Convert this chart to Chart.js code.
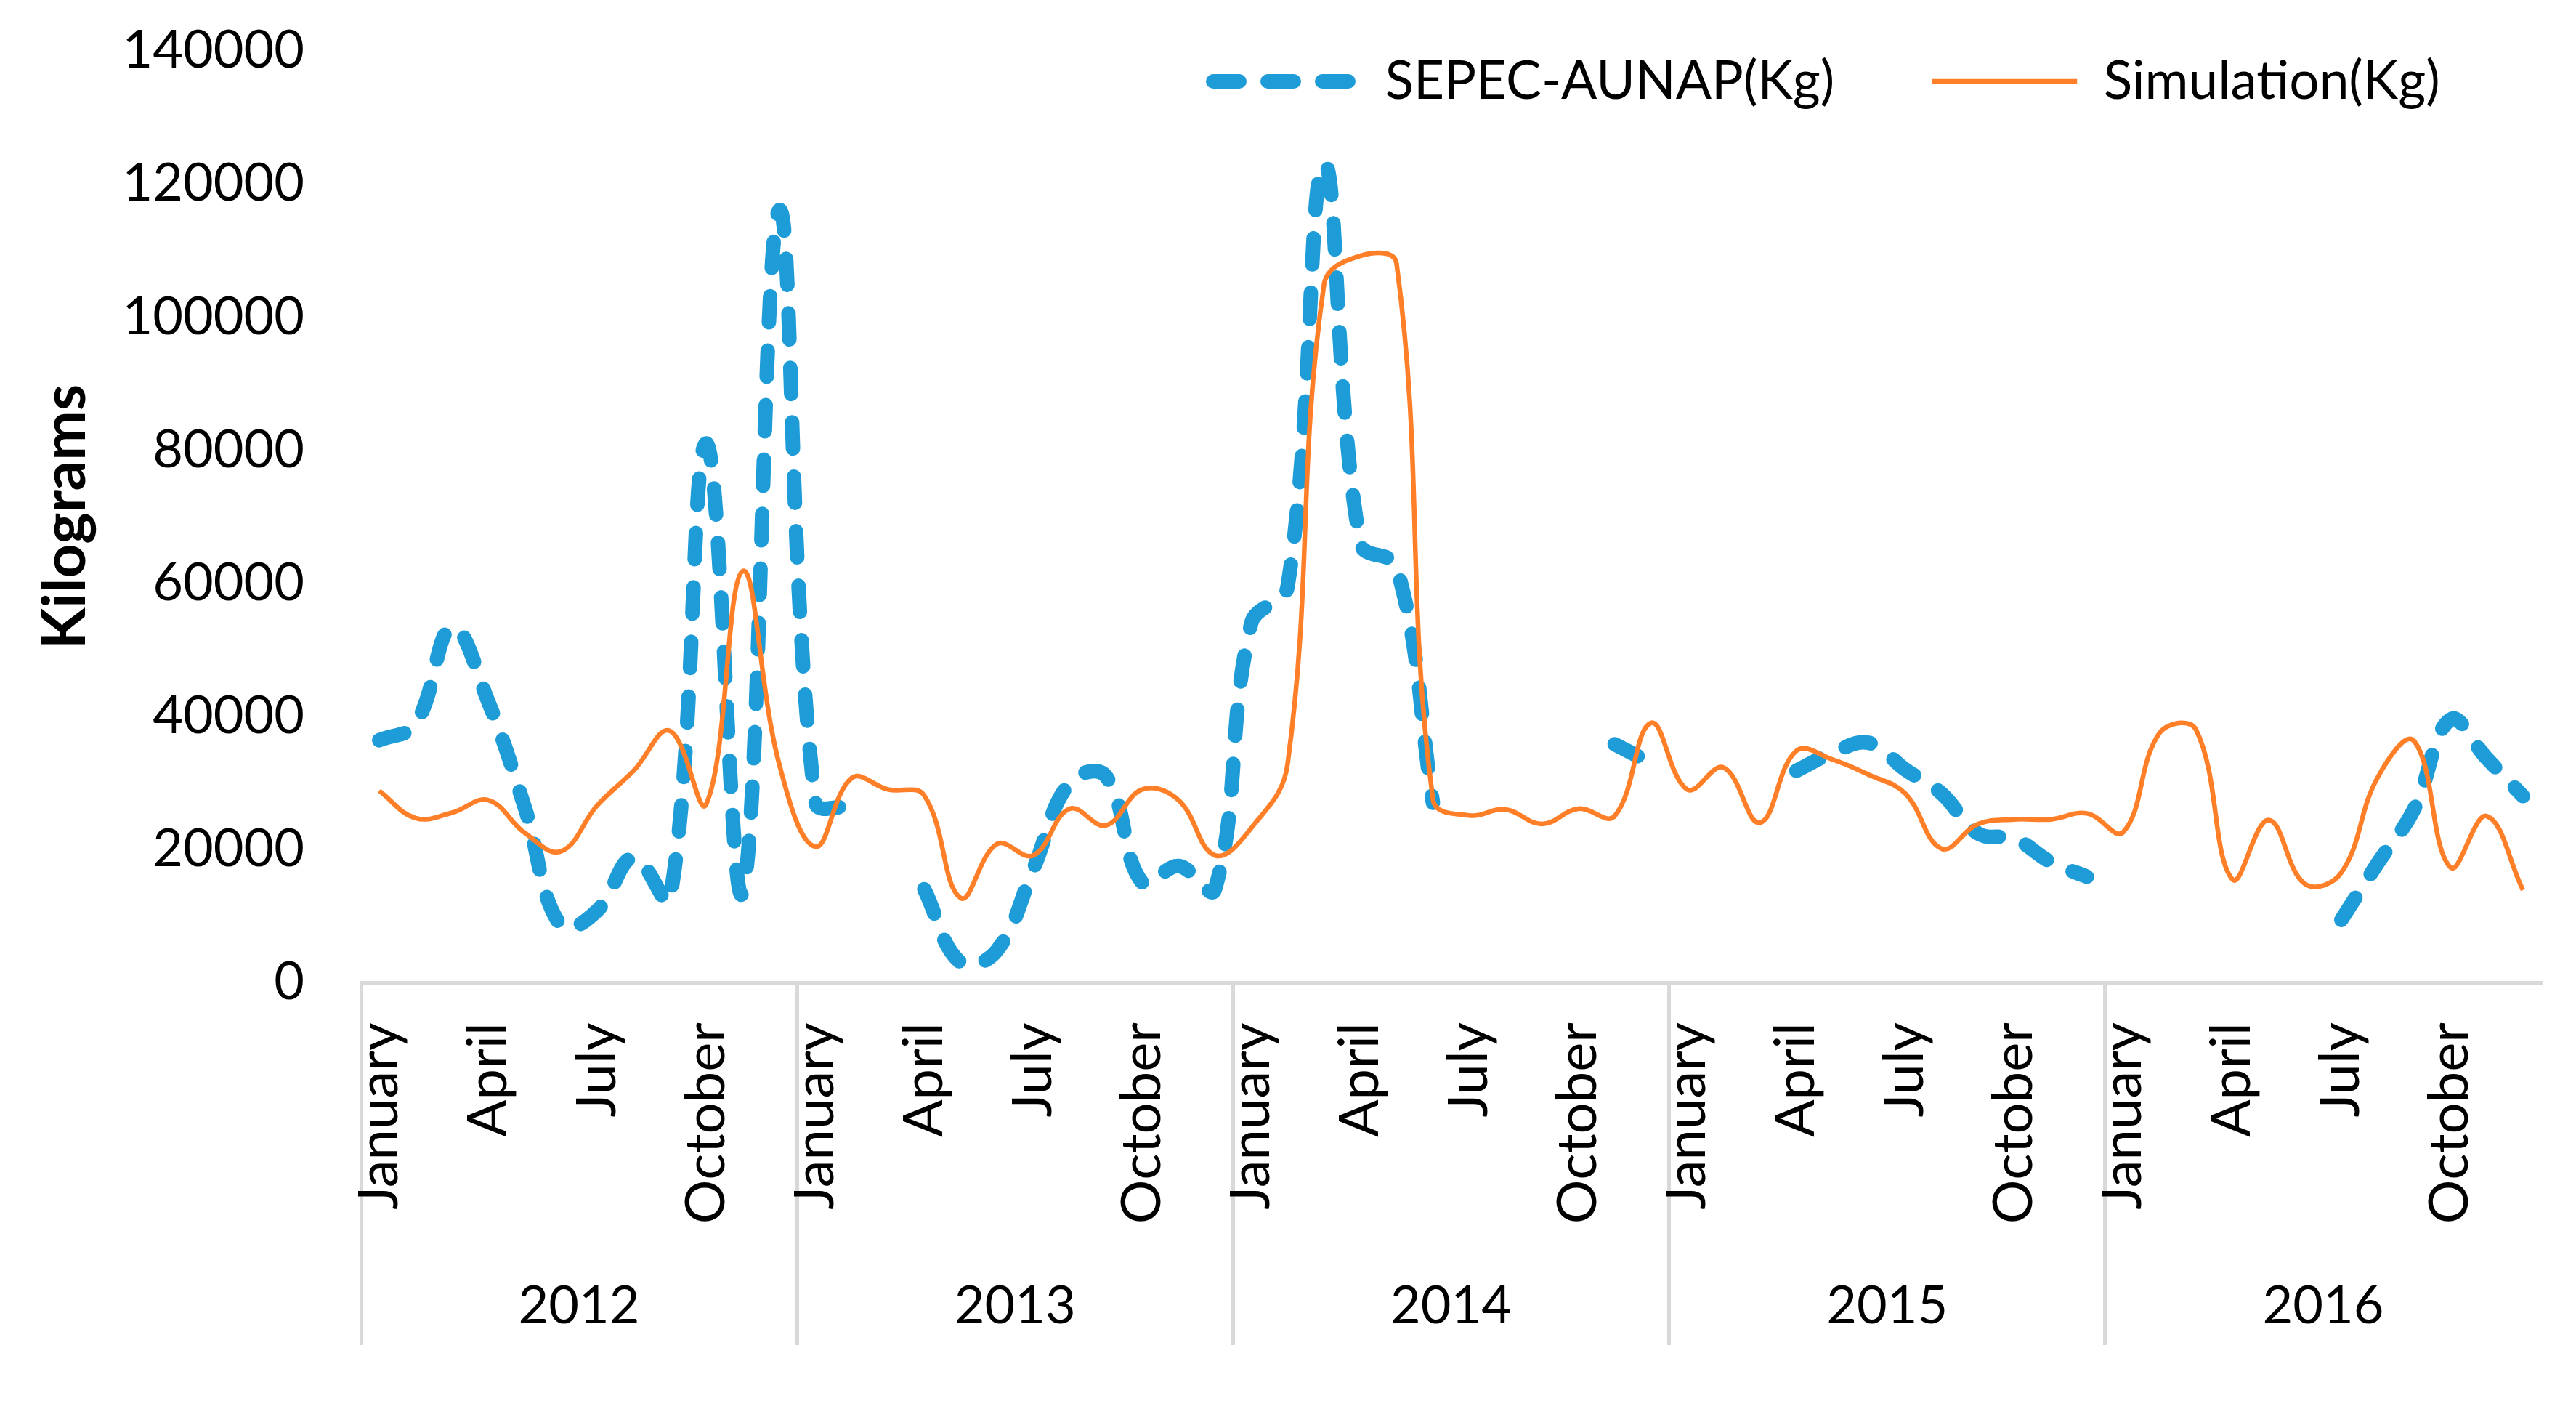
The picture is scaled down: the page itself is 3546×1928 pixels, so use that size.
<!DOCTYPE html>
<html>
<head>
<meta charset="utf-8">
<script src="https://cdn.jsdelivr.net/npm/chart.js@4.4.1/dist/chart.umd.min.js"></script>
<style>
  html, body { margin: 0; padding: 0; background: #fff; }
  canvas { display: block; }
</style>
</head>
<body>
<canvas id="chart" width="3546" height="1928"></canvas>
<script>
// ── Data ─────────────────────────────────────────────────────────────────────

const years = ['2012', '2013', '2014', '2015', '2016'];
const months = ['January', 'February', 'March', 'April', 'May', 'June',
    'July', 'August', 'September', 'October', 'November', 'December'];
const yTicks = [0, 20000, 40000, 60000, 80000, 100000, 120000, 140000];

// SEPEC-AUNAP landings, kg per month (null = no record)
const sepecKg = [
    36400, 38800, 53400, 42200, 26400, 8500, 10800, 18800, 12500, 81000, 13500, 116000,
    27200, 26400, null, 14000, 3000, 4800, 17000, 30000, 31000, 15000, 17500, 14000,
    54000, 59500, 123000, 66000, 62500, 27000, null, null, null, null, 35800, 33000,
    null, null, null, 31800, 34500, 36000, 32000, 28400, 22400, 21600, 18100, 15900,
    null, null, null, null, null, null, 9400, 17900, 26000, 39500, 33700, 28000,
];

// Simulated catch, kg per month
const simulationKg = [
    28800, 24700, 25500, 27400, 22500, 19700, 26600, 31800, 37800, 26800, 61800, 33000,
    20400, 30700, 29000, 28100, 12700, 20800, 19100, 26100, 23600, 29000, 27400, 19100,
    23200, 32800, 104800, 109200, 108000, 27500, 25100, 26000, 23800, 26100, 25000, 39000,
    29000, 32300, 24000, 34800, 33500, 31200, 28400, 20100, 23800, 24500, 24500, 25400,
    22600, 37500, 38000, 15500, 24400, 14800, 16500, 30800, 36300, 17300, 25000, 13900,
];

// ── Styling ──────────────────────────────────────────────────────────────────

const blue = '#1e9cd7';
const orange = '#fe7f28';
const axisGrey = '#d9d9d9';

const chartTop = 70;        // pixel row of the 140000 line
const legendCenterY = 112;
const legendLeft = 1670;

Chart.defaults.font.family = 'Lato, "Open Sans", sans-serif';
Chart.defaults.color = '#000';

const labels = years.flatMap((y) => months.map((m) => `${m} ${y}`));

// Excel draws the legend inside the plot area; move the box after layout
const legendShift = {
    id: 'legendShift',
    afterLayout(chart) {
        const lg = chart.legend;
        if (!lg) return;
        const opts = lg.options.labels;
        const top = legendCenterY - opts.padding - opts.font.size / 2;
        lg.bottom += top - lg.top;
        lg.top = top;
        lg.right = legendLeft + lg.lineWidths[0];
    },
};

const yearLine = (c) => (c.index % 12 === 0 ? 5 : 0);

const chart = new Chart(document.getElementById('chart'), {
    type: 'line',
    data: {
        labels,
        datasets: [
            {
                label: 'SEPEC-AUNAP(Kg)',
                data: sepecKg,
                borderColor: blue,
                backgroundColor: blue,
                borderWidth: 20,
                borderDash: [36, 39],
                borderCapStyle: 'round',
                borderJoinStyle: 'round',
                pointRadius: 0,
                tension: 0.4,
                order: 2,
            },
            {
                label: 'Simulation(Kg)',
                data: simulationKg,
                borderColor: orange,
                backgroundColor: orange,
                borderWidth: 6.5,
                pointRadius: 0,
                tension: 0.4,
                order: 1,
            },
        ],
    },
    options: {
        responsive: false,
        devicePixelRatio: 1,
        animation: false,
        layout: { padding: { top: 0, right: 48, bottom: 0, left: 0 } },
        plugins: {
            tooltip: { enabled: false },
            legend: {
                position: 'top',
                align: 'end',
                labels: {
                    usePointStyle: true,
                    pointStyleWidth: 200,
                    padding: 134,
                    font: { size: 73 },
                    generateLabels: (c) => c.data.datasets.map((ds, i) => ({
                        text: ds.label,
                        datasetIndex: i,
                        fontColor: '#000',
                        fillStyle: ds.borderColor,
                        strokeStyle: ds.borderColor,
                        lineWidth: ds.borderWidth,
                        lineDash: ds.borderDash || [],
                        lineCap: ds.borderCapStyle || 'butt',
                        pointStyle: 'line',
                        hidden: false,
                    })),
                },
            },
        },
        scales: {
            x: {
                type: 'category',
                position: 'bottom',
                offset: true,
                weight: 0,
                border: { display: true, color: axisGrey, width: 5 },
                grid: {
                    offset: true,
                    drawOnChartArea: false,
                    drawTicks: true,
                    tickLength: 499,
                    color: axisGrey,
                    lineWidth: yearLine,
                    tickColor: axisGrey,
                    tickWidth: yearLine,
                },
                ticks: {
                    autoSkip: false,
                    minRotation: 90,
                    maxRotation: 90,
                    padding: -444,
                    font: { size: 76 },
                    color: '#000',
                    callback: (v, i) => (i % 3 === 0 ? months[i % 12] : ''),
                },
                afterFit: (s) => { s.height = 330; s.paddingLeft = 0; s.paddingRight = 0; },
            },
            x2: {
                type: 'category',
                labels: years,
                position: 'bottom',
                offset: true,
                weight: 1,
                border: { display: false },
                grid: { display: false, drawTicks: false },
                ticks: { padding: 73, font: { size: 72 }, color: '#000', maxRotation: 0 },
                afterFit: (s) => { s.height = 246; s.paddingLeft = 0; s.paddingRight = 0; },
            },
            y: {
                position: 'left',
                min: yTicks[0],
                max: yTicks[yTicks.length - 1],
                border: { display: false },
                grid: { display: false, drawTicks: false },
                afterBuildTicks: (s) => { s.ticks = yTicks.map((value) => ({ value })); },
                ticks: {
                    padding: 78,
                    font: { size: 72 },
                    color: '#000',
                    callback: (v) => String(v),
                },
                title: {
                    display: true,
                    text: 'Kilograms',
                    color: '#000',
                    font: { size: 82, weight: 'bold' },
                    padding: { top: 41, bottom: 0 },
                },
                afterFit: (s) => { s.width = 497; s.paddingTop = 0; s.paddingBottom = 0; },
            },
        },
    },
    plugins: [legendShift],
});

// The legend box still reserves height at the top; pull the plot back up to the 140000 row
for (let k = 0; k < 4; k++) {
    const dy = chart.chartArea.top - chartTop;
    if (Math.abs(dy) < 0.5) break;
    chart.config.options.layout.padding.top -= dy;
    chart.update();
}
</script>
</body>
</html>
